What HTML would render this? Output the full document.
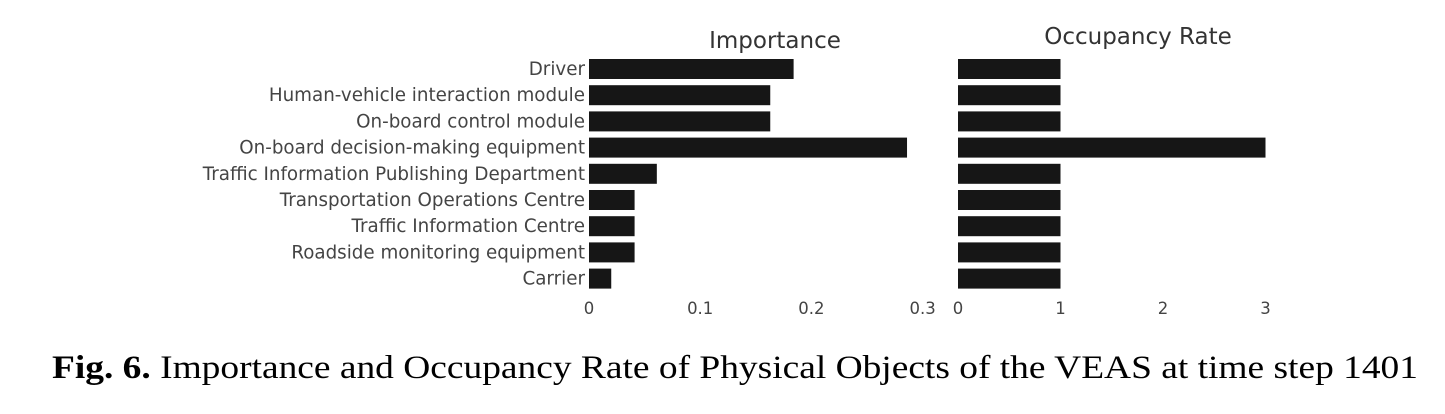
<!DOCTYPE html>
<html><head><meta charset="utf-8"><style>
html,body{margin:0;padding:0;background:#fff;}
svg{display:block;}
</style></head><body>
<svg id="chart" width="1445" height="414" xmlns="http://www.w3.org/2000/svg">
<text x="775" y="48" text-anchor="middle" font-family="DejaVu Sans, sans-serif" font-size="23" fill="#333">Importance</text>
<text x="1138" y="44" text-anchor="middle" font-family="DejaVu Sans, sans-serif" font-size="23" fill="#333">Occupancy Rate</text>
<g id="bars"></g>
<text x="52" y="378" font-family="'Liberation Serif', serif" font-size="33" fill="#000" textLength="1366" lengthAdjust="spacingAndGlyphs"><tspan font-weight="bold">Fig. 6.</tspan>  Importance and Occupancy Rate of Physical Objects of the VEAS at time step 1401</text>
</svg>
<script>
const categories = ["Driver","Human-vehicle interaction module","On-board control module","On-board decision-making equipment","Traffic Information Publishing Department","Transportation Operations Centre","Traffic Information Centre","Roadside monitoring equipment","Carrier"];
const importance = [0.184,0.163,0.163,0.286,0.061,0.041,0.041,0.041,0.020];
const occupancy = [1,1,1,3,1,1,1,1,1];
const impTicks = [0,0.1,0.2,0.3];
const impTickLabels = ["0","0.1","0.2","0.3"];
const occTicks = [0,1,2,3];
const occTickLabels = ["0","1","2","3"];

const NS="http://www.w3.org/2000/svg";
const g=document.getElementById('bars');
const xImp=v=>589+v*1112;
const xOcc=v=>958+v*102.5;
const yBand=i=>59+i*26.2;
const bh=20;
function mk(tag,attrs){const e=document.createElementNS(NS,tag);for(const k in attrs)e.setAttribute(k,attrs[k]);g.appendChild(e);return e;}
categories.forEach((c,i)=>{
  const t=mk('text',{x:585,y:yBand(i)+bh/2+6,'text-anchor':'end','font-family':'DejaVu Sans, sans-serif','font-size':'18.3',fill:'#444'});
  t.textContent=c;
  
  
  const r=mk('rect',{x:xImp(0),y:yBand(i),width:xImp(importance[i])-xImp(0),height:bh,fill:'#161616'});
  
  
  const r2=mk('rect',{x:xOcc(0),y:yBand(i),width:xOcc(occupancy[i])-xOcc(0),height:bh,fill:'#161616'});
  
  
});
impTicks.forEach((v,i)=>{
  const t=mk('text',{x:xImp(v),y:314,'text-anchor':'middle','font-family':'DejaVu Sans, sans-serif','font-size':'16.5',fill:'#444'});
  t.textContent=impTickLabels[i];
  
  
});
occTicks.forEach((v,i)=>{
  const t=mk('text',{x:xOcc(v),y:314,'text-anchor':'middle','font-family':'DejaVu Sans, sans-serif','font-size':'16.5',fill:'#444'});
  t.textContent=occTickLabels[i];
  
  
});
</script>
</body></html>
